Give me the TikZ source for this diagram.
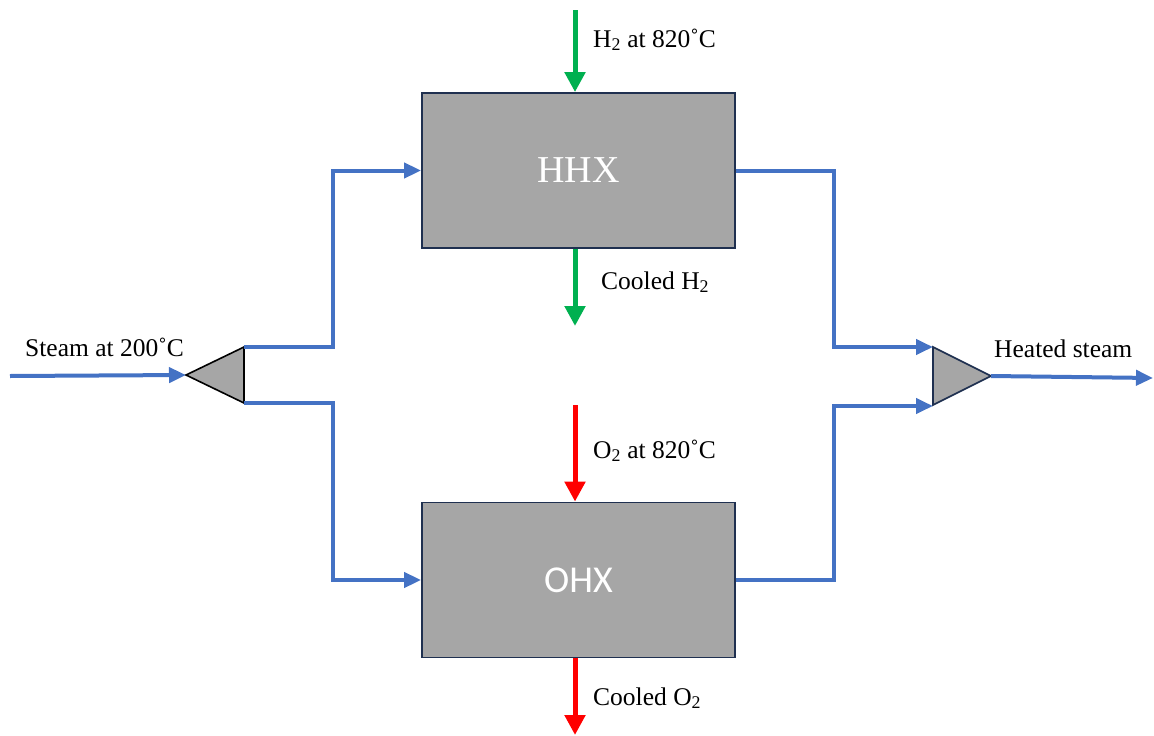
\documentclass[tikz,border=0pt]{standalone}
\usepackage{fontspec}
\setmainfont{Liberation Serif}
\newfontfamily\calib{Carlito}
\usetikzlibrary{arrows.meta}
\definecolor{flowblue}{HTML}{4472C4}
\definecolor{hgreen}{HTML}{00B050}
\definecolor{ored}{HTML}{FF0000}
\definecolor{boxgray}{HTML}{A6A6A6}
\definecolor{navy}{HTML}{1F3050}
\tikzset{
  flow/.style={draw=flowblue, line width=4pt, -{Triangle[length=17pt,width=15pt]}},
  gasflow/.style={line width=5pt, -{Triangle[length=20pt,width=20pt]}},
  hxbox/.style={draw=navy, line width=1.8pt, fill=boxgray, minimum width=313pt, minimum height=155pt, inner sep=0pt},
  lbl/.style={inner sep=0pt, anchor=base west, font=\fontsize{25.5}{29}\selectfont},
  splitter/.style={fill=boxgray, line width=1.6pt, line join=miter}
}
\begin{document}
\begin{tikzpicture}[x=1pt,y=-1pt]
\useasboundingbox (0,0) rectangle (1154,736);
% heat exchangers
\node[hxbox] (hhx) at (578.5,170.5) {\color{white}\fontsize{38}{42}\selectfont HHX};
\node[hxbox] (ohx) at (578.5,580) {\color{white}\calib\fontsize{38}{42}\selectfont OHX};
% splitter and mixer
\coordinate (lttip) at (186,375);
\coordinate (lttop) at (244,347);
\coordinate (ltbot) at (244,403);
\coordinate (rttop) at (933,347);
\coordinate (rtbot) at (933,405);
\coordinate (rttip) at (991,376);
\draw[splitter, draw=black] (lttip) -- (lttop) -- (ltbot) -- cycle;
\draw[splitter, draw=navy] (rttop) -- (rttip) -- (rtbot) -- cycle;
% steam lines
\coordinate (steamin) at (10,376);
\coordinate (steamout) at (1153,378);
\draw[flow] (steamin) -- (lttip);
\draw[flow] (lttop) -- ++(89,0) |- (hhx.west);
\draw[flow] (ltbot) -- ++(89,0) |- (ohx.west);
\draw[flow] (hhx.east) -- ++(98,0) |- (rttop);
\draw[flow] (ohx.east) -- ++(98,0) |- ([yshift=-1pt]rtbot);
\draw[flow] (rttip) -- (steamout);
% gas lines
\coordinate (h2in) at (575,10);
\coordinate (h2out) at (575,326);
\coordinate (o2in) at (575,405);
\coordinate (o2out) at (575,735);
\draw[gasflow, draw=hgreen, fill=hgreen] (h2in) -- (h2in |- hhx.north);
\draw[gasflow, draw=hgreen, fill=hgreen] (h2in |- hhx.south) -- (h2out);
\draw[gasflow, draw=ored, fill=ored] (o2in) -- (o2in |- ohx.north);
\draw[gasflow, draw=ored, fill=ored] (o2in |- ohx.south) -- (o2out);
% labels
\node[lbl] (lh2in) at (593,47) {H\textsubscript{2} at 820˚C};
\node[lbl] (lh2out) at (601,289) {Cooled H\textsubscript{2}};
\node[lbl] (lo2in) at (593,458) {O\textsubscript{2} at 820˚C};
\node[lbl] (lo2out) at (593,705) {Cooled O\textsubscript{2}};
\node[lbl] (lsteamin) at (25,356) {Steam at 200˚C};
\node[lbl] (lsteamout) at (994,357) {Heated steam};
\end{tikzpicture}
\end{document}
